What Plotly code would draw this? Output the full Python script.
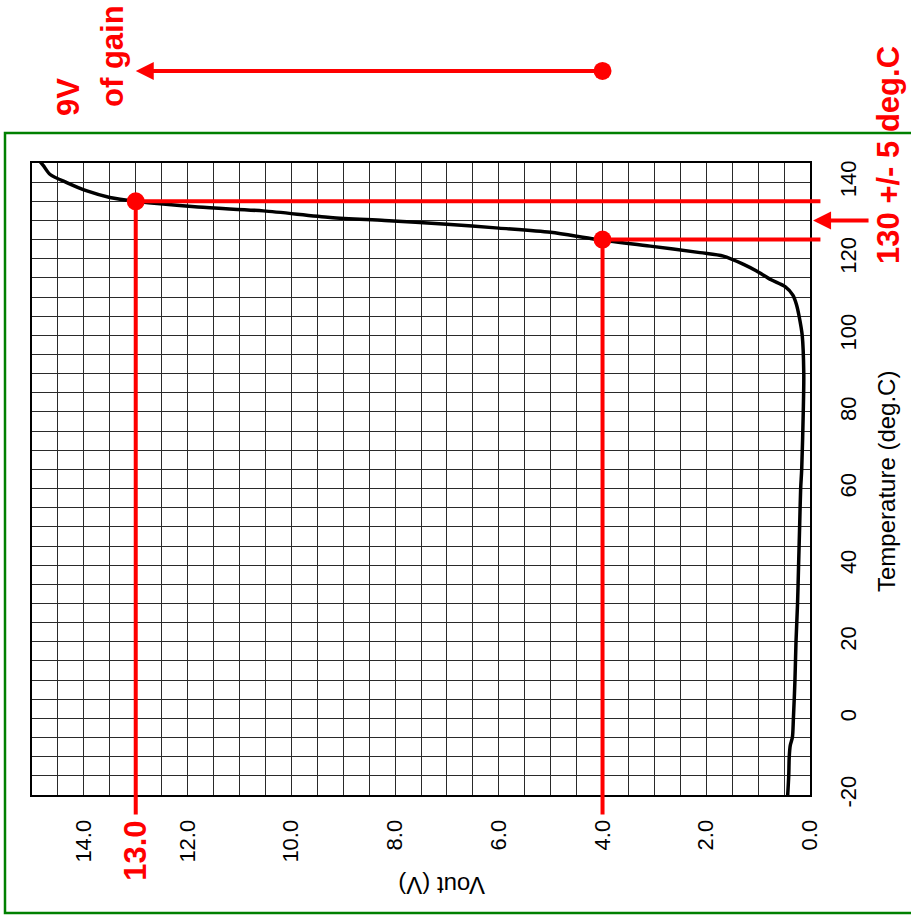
import plotly.graph_objects as go

# ---- data (chart is drawn rotated: Vout horizontal, reversed) ----
temp_c = [-20, -15, -10, -7, -5, 0, 10, 20, 30, 40, 50, 60, 65, 80, 90, 100, 105, 108, 110.5,
          112.7, 114.5, 116.8, 118.6, 120.7, 121.6, 123.3, 125.1, 126.9, 128.0, 129.0, 130.0,
          130.8, 132.5, 133.5, 135.0, 136.0, 137.7, 139.9, 142.0, 144.3, 145.3]
vout_v = [0.43, 0.41, 0.40, 0.38, 0.34, 0.32, 0.29, 0.27, 0.24, 0.22, 0.20, 0.18, 0.16, 0.13, 0.12,
          0.15, 0.21, 0.26, 0.33, 0.48, 0.75, 1.03, 1.29, 1.67, 2.12, 3.08, 4.14, 5.0, 6.0, 7.0,
          8.2, 9.25, 10.54, 11.8, 13.0, 13.5, 13.94, 14.33, 14.65, 14.78, 14.84]

vout_range = [15, 0]
temp_range = [-20, 145]
vout_ticks = [0, 2, 4, 6, 8, 10, 12, 14]
vout_ticktext = ["0.0", "2.0", "4.0", "6.0", "8.0", "10.0", "12.0", "14.0"]
temp_ticks = [-20, 0, 20, 40, 60, 80, 100, 120, 140]
temp_ticktext = ["-20", "0", "20", "40", "60", "80", "100", "120", "140"]

mark_vout = [13.0, 4.0]      # Vout at the two marked points
mark_temp = [135, 125]       # temperature at the two marked points
gain_from, gain_to = 4.0, 13.0
target_temp = 130

FONT = "Liberation Sans, Arial, sans-serif"
RED = "#ff0000"
GAIN_Y = 1.1456  # paper height of the gain arrow

fig = go.Figure()
fig.add_trace(go.Scatter(x=vout_v, y=temp_c, mode="lines",
                         line=dict(color="black", width=3.5, shape="spline", smoothing=0.8),
                         hoverinfo="skip"))
fig.add_trace(go.Scatter(x=mark_vout, y=mark_temp, mode="markers",
                         marker=dict(color=RED, size=18), hoverinfo="skip"))

ann = []
# red guide lines (annotation arrows so they can run outside the plot area)
for v, t in zip(mark_vout, mark_temp):
    ann.append(dict(x=v, y=t, xref="x", yref="y", ax=v, ay=-25.5, axref="x", ayref="y",
                    text="", showarrow=True, arrowhead=0, arrowwidth=4, arrowcolor=RED,
                    standoff=0, startstandoff=0))
    ann.append(dict(x=v, y=t, xref="x", yref="y", ax=-0.23, ay=t, axref="x", ayref="y",
                    text="", showarrow=True, arrowhead=0, arrowwidth=4, arrowcolor=RED,
                    standoff=0, startstandoff=0))
# gain arrow on top
ann.append(dict(x=gain_to, y=GAIN_Y, xref="x", yref="paper", ax=gain_from, ay=0,
                axref="x", ayref="pixel", text="", showarrow=True, arrowhead=2,
                arrowsize=0.9, arrowwidth=4, arrowcolor=RED, standoff=0))
# arrow pointing at target temperature on the right
ann.append(dict(x=1.0039, y=target_temp, xref="paper", yref="y", ax=57, ay=0,
                text="", showarrow=True, arrowhead=2, arrowsize=0.9, arrowwidth=4,
                arrowcolor=RED, standoff=0))
# red texts
redfont = dict(family=FONT, size=31, color=RED, weight="bold")
ann += [
    dict(x=1.1015, y=1.0127, xref="paper", yref="paper", text="<b>130 +/- 5 deg.C</b>",
         textangle=-90, showarrow=False, font=redfont, xanchor="center", yanchor="middle"),
    dict(x=0.0463, y=1.1044, xref="paper", yref="paper", text="<b>9V</b>",
         textangle=-90, showarrow=False, font=redfont, xanchor="center", yanchor="middle"),
    dict(x=0.1028, y=1.1693, xref="paper", yref="paper", text="<b>of gain</b>",
         textangle=-90, showarrow=False, font=redfont, xanchor="center", yanchor="middle"),
    dict(x=gain_to, y=-0.0886, xref="x", yref="paper", text="<b>13.0</b>",
         textangle=-90, showarrow=False, font=redfont, xanchor="center", yanchor="middle"),
]
# axis titles
ann += [
    dict(x=1.099, y=0.4953, xref="paper", yref="paper", text="Temperature (deg.C)",
         textangle=-90, showarrow=False, font=dict(family=FONT, size=24, color="black"),
         xanchor="center", yanchor="middle"),
    dict(x=0.527, y=-0.144, xref="paper", yref="paper", text="Vout (V)",
         textangle=180, showarrow=False, font=dict(family=FONT, size=24, color="black"),
         xanchor="center", yanchor="middle"),
]

GRID = "#2a2a2a"
fig.update_layout(
    width=911, height=922,
    margin=dict(l=32, r=101, t=163, b=127),
    paper_bgcolor="white", plot_bgcolor="white",
    showlegend=False,
    font=dict(family=FONT, color="black"),
    annotations=ann,
    shapes=[
        dict(type="rect", xref="paper", yref="paper", x0=-0.0347, x1=1.14,
             y0=-0.1867, y1=1.0475, line=dict(color="#008000", width=2.5)),
        # dot at the tail of the gain arrow
        dict(type="circle", xref="x", yref="paper", xsizemode="pixel", ysizemode="pixel",
             xanchor=gain_from, yanchor=GAIN_Y, x0=-9, x1=9, y0=-9, y1=9,
             fillcolor=RED, line=dict(color=RED, width=0)),
    ],
    xaxis=dict(range=vout_range, tickmode="array", tickvals=vout_ticks, ticktext=vout_ticktext,
               tickangle=-90, tickfont=dict(size=22), ticks="", ticklabelstandoff=14,
               showgrid=True, gridcolor=GRID, gridwidth=1, zeroline=False,
               minor=dict(tickmode="linear", tick0=0, dtick=0.5, showgrid=True,
                          gridcolor=GRID, gridwidth=1),
               showline=True, mirror=True, linecolor="black", linewidth=2),
    yaxis=dict(range=temp_range, side="right", tickmode="array", tickvals=temp_ticks,
               ticktext=temp_ticktext, tickangle=-90, tickfont=dict(size=22), ticks="",
               ticklabelstandoff=18,
               showgrid=True, gridcolor=GRID, gridwidth=1, zeroline=False,
               minor=dict(tickmode="linear", tick0=0, dtick=5, showgrid=True,
                          gridcolor=GRID, gridwidth=1),
               showline=True, mirror=True, linecolor="black", linewidth=2),
)

fig.write_html("out.html")
